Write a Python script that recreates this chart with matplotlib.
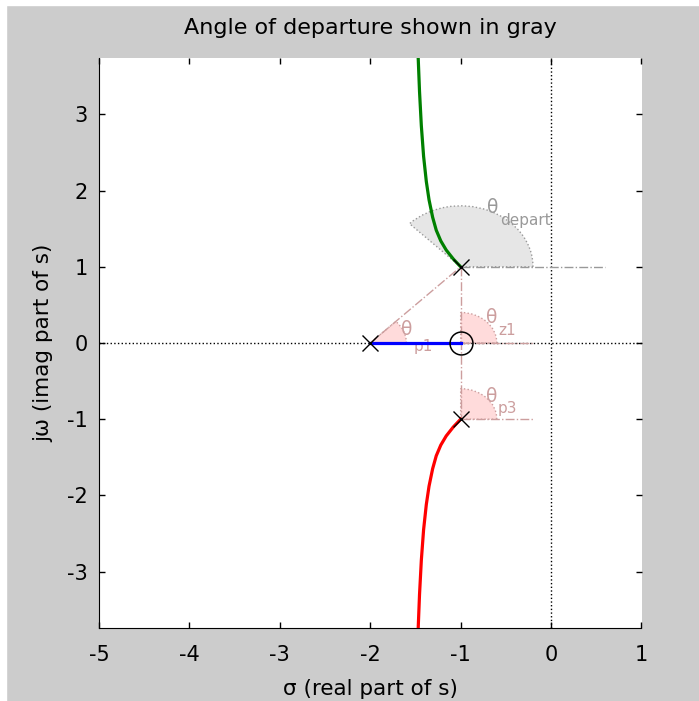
import numpy as np
import matplotlib
matplotlib.use('Agg')
import matplotlib.pyplot as plt
from matplotlib.patches import Wedge, Rectangle

plt.rcParams['font.family'] = ['DejaVu Sans']
plt.rcParams['axes.unicode_minus'] = False

# root locus branches
green_re = [-1.00, -1.08, -1.16, -1.22, -1.27, -1.31, -1.35, -1.38, -1.41, -1.435, -1.455, -1.47, -1.475]
green_im = [1.00, 1.10, 1.22, 1.34, 1.48, 1.65, 1.88, 2.12, 2.45, 2.85, 3.30, 3.75, 3.90]
red_re = [-1.00, -1.08, -1.16, -1.22, -1.27, -1.31, -1.35, -1.38, -1.41, -1.435, -1.455, -1.47, -1.475]
red_im = [-1.00, -1.10, -1.22, -1.34, -1.48, -1.65, -1.88, -2.12, -2.45, -2.85, -3.30, -3.75, -3.90]
blue_re = [-2.0, -1.0]
blue_im = [0.0, 0.0]

poles_re = [-2.0, -1.0, -1.0]
poles_im = [0.0, 1.0, -1.0]
zeros_re = [-1.0]
zeros_im = [0.0]

# angle wedges: center, radius, end angle (deg)
wedge_x = [-2.0, -1.0, -1.0]
wedge_y = [0.0, 0.0, -1.0]
wedge_r = [0.4, 0.4, 0.4]
wedge_a = [45, 90, 90]
depart_x, depart_y, depart_r, depart_a = -1.0, 1.0, 0.8, 135

# dash-dot construction lines
ref_lines = [([-2.0, -1.0], [0.0, 1.0]),
             ([-1.0, -1.0], [1.0, -1.0]),
             ([-2.0, -1.0], [0.0, 0.0]),
             ([-1.0, -0.2], [0.0, 0.0]),
             ([-1.0, -0.2], [-1.0, -1.0])]
depart_line = ([-1.0, 0.6], [1.0, 1.0])

# labels: (theta x, theta y, subscript x, subscript y, subscript)
labels = [(-1.655, 0.105, -1.52, -0.10, 'p1'),
          (-0.72, 0.262, -0.585, 0.100, 'z1'),
          (-0.72, -0.774, -0.594, -0.919, 'p3')]
depart_label = (-0.705, 1.706, -0.561, 1.555, 'depart')

ticks_x = [-5, -4, -3, -2, -1, 0, 1]
ticks_y = [-3, -2, -1, 0, 1, 2, 3]

rose = (0.8, 0.62, 0.62)
pink = (1.0, 0.86, 0.86)
gray = (0.6, 0.6, 0.6)

fig = plt.figure(figsize=(6.99, 7.01), dpi=100, facecolor='#cccccc')
fig.patches.append(Rectangle((0, 1 - 5 / 701.), 1, 5 / 701., transform=fig.transFigure, color='white', zorder=0))
fig.patches.append(Rectangle((0, 0), 6 / 699., 1, transform=fig.transFigure, color='white', zorder=0))
ax = fig.add_axes([99 / 699., 1 - 628 / 701., 542.5 / 699., 570 / 701.])
ax.set_facecolor('white')

# wedges
for x, y, r, a in zip(wedge_x, wedge_y, wedge_r, wedge_a):
    ax.add_patch(Wedge((x, y), r, 0, a, facecolor=pink, edgecolor=rose, linestyle=':', lw=1, zorder=1))
ax.add_patch(Wedge((depart_x, depart_y), depart_r, 0, depart_a, facecolor=(0.9, 0.9, 0.9),
                   edgecolor=gray, linestyle=':', lw=1, zorder=1))

# axes lines
ax.axhline(0, color='k', ls=':', lw=1, zorder=2)
ax.axvline(0, color='k', ls=':', lw=1, zorder=2)

for xs, ys in ref_lines:
    ax.plot(xs, ys, color=rose, ls='-.', lw=1, zorder=2)
ax.plot(depart_line[0], depart_line[1], color=gray, ls='-.', lw=1, zorder=2)

for tx, ty, sx, sy, s in labels:
    ax.text(tx, ty, '\u03b8', color=rose, fontsize=13.5, va='baseline', ha='left', zorder=3)
    ax.text(sx, sy, s, color=rose, fontsize=11, va='baseline', ha='left', zorder=3)
tx, ty, sx, sy, s = depart_label
ax.text(tx, ty, '\u03b8', color=gray, fontsize=13.5, va='baseline', ha='left', zorder=3)
ax.text(sx, sy, s, color=gray, fontsize=11, va='baseline', ha='left', zorder=3)

# locus
ax.plot(green_re, green_im, color=(0, 0.5, 0), lw=2.3, zorder=4)
ax.plot(red_re, red_im, color='red', lw=2.3, zorder=4)
ax.plot(blue_re, blue_im, color='blue', lw=2.3, zorder=4)

ax.plot(poles_re, poles_im, 'x', color='k', ms=11, mew=1, zorder=5)
ax.plot(zeros_re, zeros_im, 'o', mfc='none', mec='k', ms=16.5, mew=1.1, zorder=5)

ax.set_xlim(-5, 1)
ax.set_ylim(-3.74, 3.74)
ax.set_xticks(ticks_x)
ax.set_yticks(ticks_y)
ax.tick_params(direction='in', length=4, width=1, top=True, right=True, labelsize=15)
ax.tick_params(axis='x', pad=12)
ax.tick_params(axis='y', pad=8)
ax.spines['top'].set_visible(False)
ax.spines['right'].set_visible(False)
ax.set_title('Angle of departure shown in gray', fontsize=16, pad=17)
ax.set_xlabel('\u03c3 (real part of s)', fontsize=15.5, labelpad=10)
ax.set_ylabel('j\u03c9 (imag part of s)', fontsize=15.5, labelpad=10)

plt.savefig('out.png', dpi=100, facecolor=fig.get_facecolor())
